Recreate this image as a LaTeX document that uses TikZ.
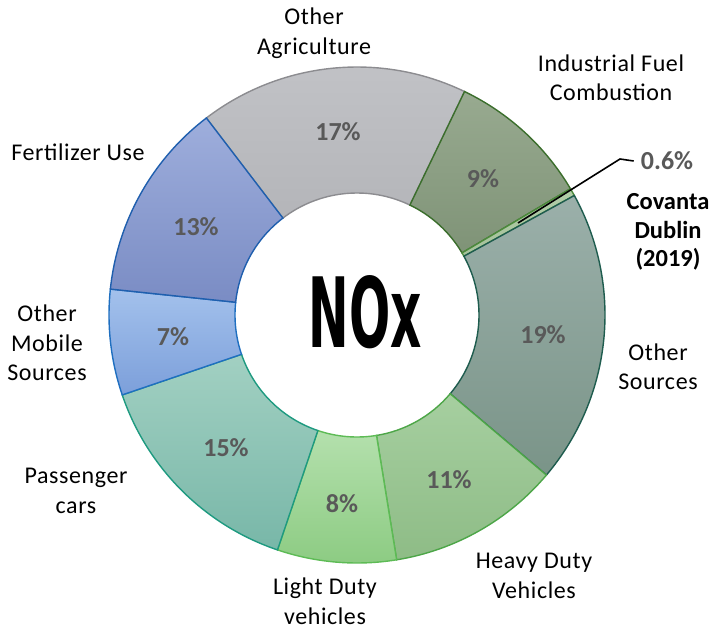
\documentclass[tikz,border=0pt]{standalone}
\usepackage{fontspec}
\setmainfont{Carlito}
\newfontfamily\lblfont[LetterSpace=2.5]{Carlito}
\newfontfamily\noxfont{DejaVu Sans}
\usetikzlibrary{calc}
\definecolor{pctgray}{HTML}{595959}
\definecolor{agT}{HTML}{C2C3C7}\definecolor{agB}{HTML}{B4B5B9}\definecolor{agL}{HTML}{8C8C90}
\definecolor{inT}{HTML}{98AA90}\definecolor{inB}{HTML}{7F9377}\definecolor{inL}{HTML}{3B6E2C}
\definecolor{coT}{HTML}{B2CDA8}\definecolor{coB}{HTML}{A5C29B}\definecolor{coL}{HTML}{4C8A3C}
\definecolor{osT}{HTML}{9BB0AA}\definecolor{osB}{HTML}{7A9488}\definecolor{osL}{HTML}{1E5C4E}
\definecolor{hdT}{HTML}{A6CFA0}\definecolor{hdB}{HTML}{8EBC86}\definecolor{hdL}{HTML}{4DA648}
\definecolor{ldT}{HTML}{B4E0AD}\definecolor{ldB}{HTML}{8CCB82}\definecolor{ldL}{HTML}{5DBB55}
\definecolor{pcT}{HTML}{A2D0C2}\definecolor{pcB}{HTML}{78B7A8}\definecolor{pcL}{HTML}{1E9A80}
\definecolor{moT}{HTML}{A3C1EC}\definecolor{moB}{HTML}{7C9FDA}\definecolor{moL}{HTML}{1F6FC0}
\definecolor{feT}{HTML}{9EAEDC}\definecolor{feB}{HTML}{7A8CC4}\definecolor{feL}{HTML}{1F5FAE}
\tikzset{
  lbl/.style={font=\lblfont\fontsize{24}{29.5}\selectfont, align=center, inner sep=0pt, text=black},
  pct/.style={font=\fontsize{26}{28}\selectfont\bfseries, inner sep=0pt, text=pctgray},
  covlbl/.style={font=\fontsize{24.5}{28.5}\selectfont\bfseries, align=center, inner sep=0pt, text=black},
  segline/.style={line width=1.4pt},
  leader/.style={line width=1.6pt, black}
}
\newcommand{\donutseg}[5]{% a b topcolor bottomcolor border
  \path[top color=#3, bottom color=#4] (90-#1:248) arc[start angle=90-#1, end angle=90-#2, radius=248] -- (90-#2:122) arc[start angle=90-#2, end angle=90-#1, radius=122] -- cycle;
  \draw[segline, draw=#5] (90-#1:248) arc[start angle=90-#1, end angle=90-#2, radius=248] -- (90-#2:122) arc[start angle=90-#2, end angle=90-#1, radius=122] -- cycle;
}
\begin{document}
\begin{tikzpicture}[x=1pt,y=1pt]
\useasboundingbox (0,0) rectangle (711,-631);
\begin{scope}[shift={(357,-315)}]
  \donutseg{322.6}{385.7}{agT}{agB}{agL}
  \donutseg{25.7}{59.4}{inT}{inB}{inL}
  \donutseg{59.4}{61.2}{coT}{coB}{coL}
  \donutseg{61.2}{130.2}{osT}{osB}{osL}
  \donutseg{130.2}{170.8}{hdT}{hdB}{hdL}
  \donutseg{170.8}{198.7}{ldT}{ldB}{ldL}
  \donutseg{198.7}{251.2}{pcT}{pcB}{pcL}
  \donutseg{251.2}{276}{moT}{moB}{moL}
  \donutseg{276}{322.6}{feT}{feB}{feL}
\end{scope}
% percentages
\node[pct] (p17) at (338,-132) {17\%};
\node[pct] (p13) at (196,-227) {13\%};
\node[pct] (p7)  at (173,-337) {7\%};
\node[pct] (p15) at (226,-448) {15\%};
\node[pct] (p8)  at (342,-504) {8\%};
\node[pct] (p11) at (449,-480) {11\%};
\node[pct] (p19) at (543,-335) {19\%};
\node[pct] (p9)  at (483,-179) {9\%};
% centre title
\node[inner sep=0pt] (nox) at (365,-312.5) {\scalebox{0.5}[1]{\noxfont\bfseries\fontsize{97}{97}\selectfont NOx}};
% category labels
\node[lbl] (agri) at (314,-33) {Other\\Agriculture};
\node[lbl] (indf) at (611,-78) {Industrial Fuel\\Combustion};
\node[lbl] (fert) at (78,-152) {Fertilizer Use};
\node[lbl] (mob)  at (47,-343) {Other\\Mobile\\Sources};
\node[lbl] (pass) at (76,-491) {Passenger\\cars};
\node[lbl] (ldv)  at (325,-601) {Light Duty\\vehicles};
\node[lbl] (hdv)  at (534,-576) {Heavy Duty\\Vehicles};
\node[lbl] (oth)  at (658,-367) {Other\\Sources};
\node[covlbl] (cov) at (668,-232) {Covanta\\Dublin\\(2019)};
\node[pct] (p06) at (667,-161) {0.6\%};
% leader line
\coordinate (covseg) at (518,-223);
\coordinate (bend) at (620,-159);
\draw[leader] (covseg) -- (bend) -- ([xshift=-7pt]p06.west);
\end{tikzpicture}
\end{document}
